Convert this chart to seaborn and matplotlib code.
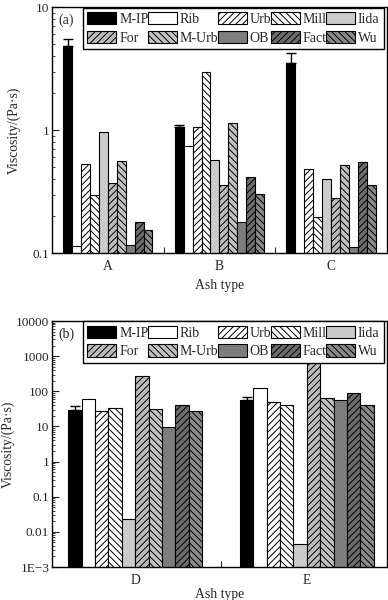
import numpy as np
import pandas as pd
import matplotlib
matplotlib.use("Agg")
import matplotlib.pyplot as plt
from matplotlib.patches import Patch
import seaborn as sns

# ---------------- data ----------------
series = ['M-IP', 'Rib', 'Urb', 'Mill', 'Iida', 'For', 'M-Urb', 'OB', 'Fact', 'Wu']

cats_top = ['A', 'B', 'C']
mip_top = [4.8, 1.06, 3.5]
rib_top = [0.115, 0.75, np.nan]
urb_top = [0.53, 1.07, 0.48]
mill_top = [0.30, 2.95, 0.197]
iida_top = [0.97, 0.57, 0.40]
for_top = [0.37, 0.36, 0.28]
murb_top = [0.56, 1.15, 0.52]
ob_top = [0.116, 0.18, 0.113]
fact_top = [0.18, 0.42, 0.55]
wu_top = [0.155, 0.305, 0.36]
mip_err_top = [0.7, 0.05, 0.75]

cats_bot = ['D', 'E']
mip_bot = [30, 57]
rib_bot = [60, 125]
urb_bot = [27, 50]
mill_bot = [34, 42]
iida_bot = [0.023, 0.0044]
for_bot = [270, 2000]
murb_bot = [32, 66]
ob_bot = [9.5, 55]
fact_bot = [41, 92]
wu_bot = [27, 42]
mip_err_bot = [9, 12]

yticks_top = [0.1, 1, 10]
ytick_labels_top = ['0.1', '1', '10']
yticks_bot = [1e-3, 1e-2, 1e-1, 1, 10, 100, 1000, 10000]
ytick_labels_bot = ['1E\u22123', '0.01', '0.1', '1', '10', '100', '1000', '10000']

# ---------------- style ----------------
colors = {'M-IP': '#000000', 'Rib': '#ffffff', 'Urb': '#ffffff', 'Mill': '#ffffff',
          'Iida': '#cbcbcb', 'For': '#bcbcbc', 'M-Urb': '#c2c2c2', 'OB': '#7d7d7d',
          'Fact': '#6c6c6c', 'Wu': '#8a8a8a'}
hatches = {'M-IP': '', 'Rib': '', 'Urb': '/////', 'Mill': '\\\\\\\\\\',
           'Iida': '', 'For': '/////', 'M-Urb': '\\\\\\\\\\', 'OB': '',
           'Fact': '/////', 'Wu': '\\\\\\\\\\'}

sns.set_style("ticks")
plt.rcParams['font.family'] = ['Liberation Serif', 'DejaVu Serif']
plt.rcParams['font.size'] = 10
plt.rcParams['hatch.linewidth'] = 0.7
plt.rcParams['hatch.color'] = 'black'
plt.rcParams['axes.linewidth'] = 1.0


def make_df(cats, arrays):
    rows = []
    for s, vals in zip(series, arrays):
        for c, v in zip(cats, vals):
            rows.append({'cat': c, 'series': s, 'value': v})
    return pd.DataFrame(rows)


df_top = make_df(cats_top, [mip_top, rib_top, urb_top, mill_top, iida_top,
                            for_top, murb_top, ob_top, fact_top, wu_top])
df_bot = make_df(cats_bot, [mip_bot, rib_bot, urb_bot, mill_bot, iida_bot,
                            for_bot, murb_bot, ob_bot, fact_bot, wu_bot])

fig = plt.figure(figsize=(3.88, 6.0), dpi=100)
ax1 = fig.add_axes([0.134, 0.578, 0.863, 0.41])
ax2 = fig.add_axes([0.134, 0.055, 0.863, 0.41])


def draw(ax, df, cats, width, errs, ylim, yticks, ylabels, xlim, tag,
         ylab_x, xlabpad):
    sns.barplot(data=df, x='cat', y='value', hue='series', order=cats,
                hue_order=series, palette=colors, saturation=1, width=width,
                errorbar=None, edgecolor='black', linewidth=0.8,
                legend=False, ax=ax)
    ax.set_yscale('log')
    for s, cont in zip(series, ax.containers):
        for p in cont.patches:
            p.set_hatch(hatches[s])
            p.set_edgecolor('black')
    # error bars on M-IP
    mip_cont = ax.containers[0]
    xs = [p.get_x() + p.get_width() / 2 for p in mip_cont.patches]
    ys = df[df['series'] == 'M-IP']['value'].tolist()
    ax.errorbar(xs, ys, yerr=[np.zeros(len(errs)), errs], fmt='none',
                ecolor='black', elinewidth=1.0, capsize=3.5, capthick=1.0, zorder=5)
    ax.set_ylim(*ylim)
    ax.set_xlim(*xlim)
    ax.set_yticks(yticks)
    ax.set_yticklabels(ylabels)
    ax.set_xticks(range(len(cats)))
    ax.set_xticklabels(cats)
    ax.set_xticks([i + 0.5 for i in range(len(cats) - 1)], minor=True)
    ax.tick_params(axis='x', which='major', length=0, pad=5, labelsize=9.8)
    ax.tick_params(axis='x', which='minor', direction='in', length=4, width=0.8)
    ax.tick_params(axis='y', which='major', direction='in', length=5, width=0.8,
                   labelsize=9.5, pad=2)
    ax.tick_params(axis='y', which='minor', direction='in', length=2.5, width=0.6)
    for sp in ax.spines.values():
        sp.set_visible(True)
        sp.set_color('black')
    ax.set_xlabel('Ash type', fontsize=9.8, labelpad=xlabpad)
    ax.set_ylabel('Viscosity/(Pa\u00b7s)', fontsize=9.8)
    ax.yaxis.set_label_coords(ylab_x, 0.5)
    ax.text(0.02, 0.975, tag, transform=ax.transAxes, ha='left', va='top', fontsize=10)
    order = ['M-IP', 'For', 'Rib', 'M-Urb', 'Urb', 'OB', 'Mill', 'Fact', 'Iida', 'Wu']
    handles = [Patch(facecolor=colors[s], edgecolor='black', hatch=hatches[s],
                     linewidth=0.8, label=s) for s in order]
    leg = ax.legend(handles=handles, ncol=5, loc='upper left',
                    bbox_to_anchor=(0.093, 0.998, 0.898, 0), mode='expand',
                    frameon=True, fancybox=False, framealpha=1, edgecolor='black',
                    handlelength=2.1, handleheight=1.0, handletextpad=0.2,
                    columnspacing=0.15, labelspacing=0.35, borderpad=0.3,
                    borderaxespad=0.0, fontsize=10)
    leg.get_frame().set_linewidth(1.0)
    leg.set_zorder(10)


draw(ax1, df_top, cats_top, 0.8, mip_err_top, (0.1, 10), yticks_top,
     ytick_labels_top, (-0.5, 2.5), '(a)', -0.093, 4)
draw(ax2, df_bot, cats_bot, 0.78, mip_err_bot, (1e-3, 1e4), yticks_bot,
     ytick_labels_bot, (-0.485, 1.466), '(b)', -0.112, 1)

fig.savefig('out.png', dpi=100)
